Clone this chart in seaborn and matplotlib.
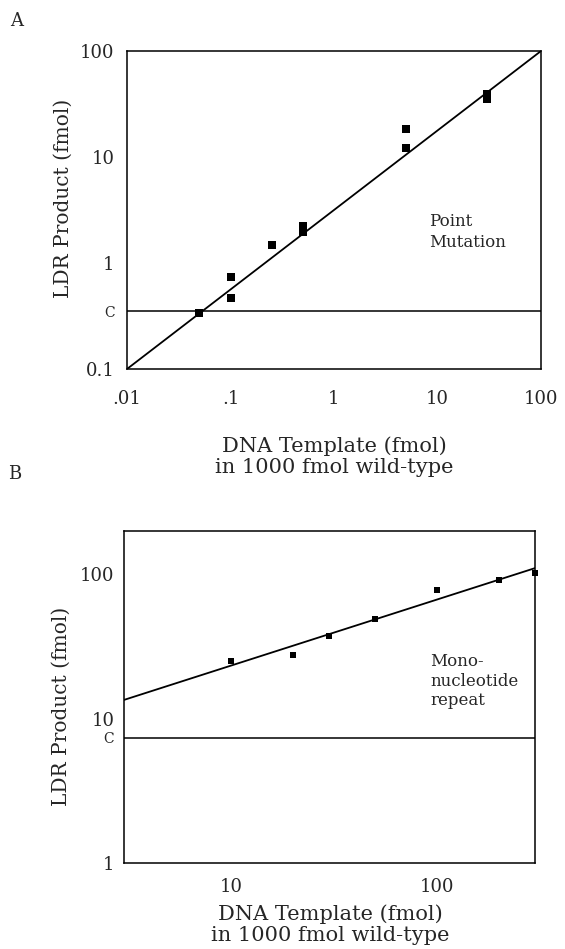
import numpy as np
import pandas as pd
import matplotlib
matplotlib.use("Agg")
import matplotlib.pyplot as plt
import matplotlib.ticker as mticker
import seaborn as sns

# Panel A - point mutation
a_template = [0.05, 0.1, 0.1, 0.25, 0.5, 0.5, 5, 5, 30, 30]
a_product = [0.336, 0.73, 0.47, 1.48, 2.23, 1.98, 18.5, 12.2, 39, 35]
a_fit_x = [0.01, 100]
a_fit_y = [0.1, 100]
a_cutoff = 0.35

# Panel B - mononucleotide repeat
b_template = [10, 20, 30, 50, 100, 200, 300]
b_product = [25, 27.7, 37.2, 49.3, 77.4, 91.8, 102]
b_fit_x = [3, 300]
b_fit_y = [13.5, 110.6]
b_cutoff = 7.4

xlabel_txt = "DNA Template (fmol)\nin 1000 fmol wild-type"
ylabel_txt = "LDR Product (fmol)"

sns.set_theme(style="white")
plt.rcParams['font.family'] = ['DejaVu Serif']

W, H = 565, 949
fig = plt.figure(figsize=(W / 100, H / 100), dpi=100)

def box(l, t, r, b):
    return [l / W, 1 - b / H, (r - l) / W, (b - t) / H]

axA = fig.add_axes(box(127, 51, 541, 369))
axB = fig.add_axes(box(124, 531, 535, 863))

dfA = pd.DataFrame({"x": a_template, "y": a_product})
dfA_fit = pd.DataFrame({"x": a_fit_x, "y": a_fit_y})
dfB = pd.DataFrame({"x": b_template, "y": b_product})
dfB_fit = pd.DataFrame({"x": b_fit_x, "y": b_fit_y})

# A
sns.lineplot(data=dfA_fit, x="x", y="y", ax=axA, color="black", lw=1.3)
sns.scatterplot(data=dfA, x="x", y="y", ax=axA, marker="s", s=26,
                color="black", edgecolor="black", linewidth=0, zorder=3,
                clip_on=False)
axA.axhline(a_cutoff, color="black", lw=1.1)
axA.set_xscale("log")
axA.set_yscale("log")
axA.set_xlim(0.01, 100)
axA.set_ylim(0.1, 100)
axA.set_xticks([0.01, 0.1, 1, 10, 100])
axA.set_xticklabels([".01", ".1", "1", "10", "100"])
axA.xaxis.set_minor_locator(mticker.LogLocator(base=10, subs=np.arange(2, 10)))
axA.xaxis.set_minor_formatter(mticker.NullFormatter())
axA.set_yticks([0.1, a_cutoff, 1, 10, 100])
axA.set_yticklabels(["0.1", "C", "1", "10", "100"])
axA.yaxis.set_minor_locator(mticker.NullLocator())
axA.text(0.73, 0.43, "Point\nMutation", transform=axA.transAxes,
         ha="left", va="center", fontsize=12, linespacing=1.3)
axA.set_xlabel("")
axA.set_ylabel(ylabel_txt, fontsize=14.5)
axA.yaxis.set_label_coords(-0.13, 0.535)

# B
sns.lineplot(data=dfB_fit, x="x", y="y", ax=axB, color="black", lw=1.3)
sns.scatterplot(data=dfB, x="x", y="y", ax=axB, marker="s", s=16,
                color="black", edgecolor="black", linewidth=0, zorder=3,
                clip_on=False)
axB.axhline(b_cutoff, color="black", lw=1.1)
axB.set_xscale("log")
axB.set_yscale("log")
axB.set_xlim(3, 300)
axB.set_ylim(1, 200)
axB.set_xticks([10, 100])
axB.set_xticklabels(["10", "100"])
axB.xaxis.set_minor_locator(mticker.LogLocator(base=10, subs=np.arange(2, 10)))
axB.xaxis.set_minor_formatter(mticker.NullFormatter())
axB.set_yticks([1, b_cutoff, 10, 100])
axB.set_yticklabels(["1", "C", "10", "100"])
axB.yaxis.set_minor_locator(mticker.NullLocator())
axB.text(0.745, 0.547, "Mono-\nnucleotide\nrepeat", transform=axB.transAxes,
         ha="left", va="center", fontsize=12, linespacing=1.2)
axB.set_xlabel("")
axB.set_ylabel(ylabel_txt, fontsize=14.5)
axB.yaxis.set_label_coords(-0.13, 0.473)

for ax in (axA, axB):
    for sp in ax.spines.values():
        sp.set_color("black")
        sp.set_linewidth(1.1)
    ax.tick_params(axis="both", which="major", labelsize=13, width=1,
                   color="black", direction="out")
    ax.tick_params(axis="x", which="minor", length=3, width=1,
                   color="black", direction="out")
    for lab in ax.get_yticklabels():
        if lab.get_text() == "C":
            lab.set_fontsize(10)

axA.tick_params(axis="x", which="major", length=5, pad=10)
axA.tick_params(axis="y", which="major", length=3, pad=6)
axB.tick_params(axis="x", which="major", length=6, pad=5)
axB.tick_params(axis="y", which="major", length=5, pad=2)

fig.text(334 / W, 1 - 457 / H, xlabel_txt, fontsize=15, ha="center",
         va="center", linespacing=1.15)
fig.text(330 / W, 1 - 925 / H, xlabel_txt, fontsize=15, ha="center",
         va="center", linespacing=1.15)

fig.text(17 / W, 1 - 21 / H, "A", fontsize=13, ha="center", va="center")
fig.text(15 / W, 1 - 474 / H, "B", fontsize=13, ha="center", va="center")

fig.savefig("out.png", dpi=100)
